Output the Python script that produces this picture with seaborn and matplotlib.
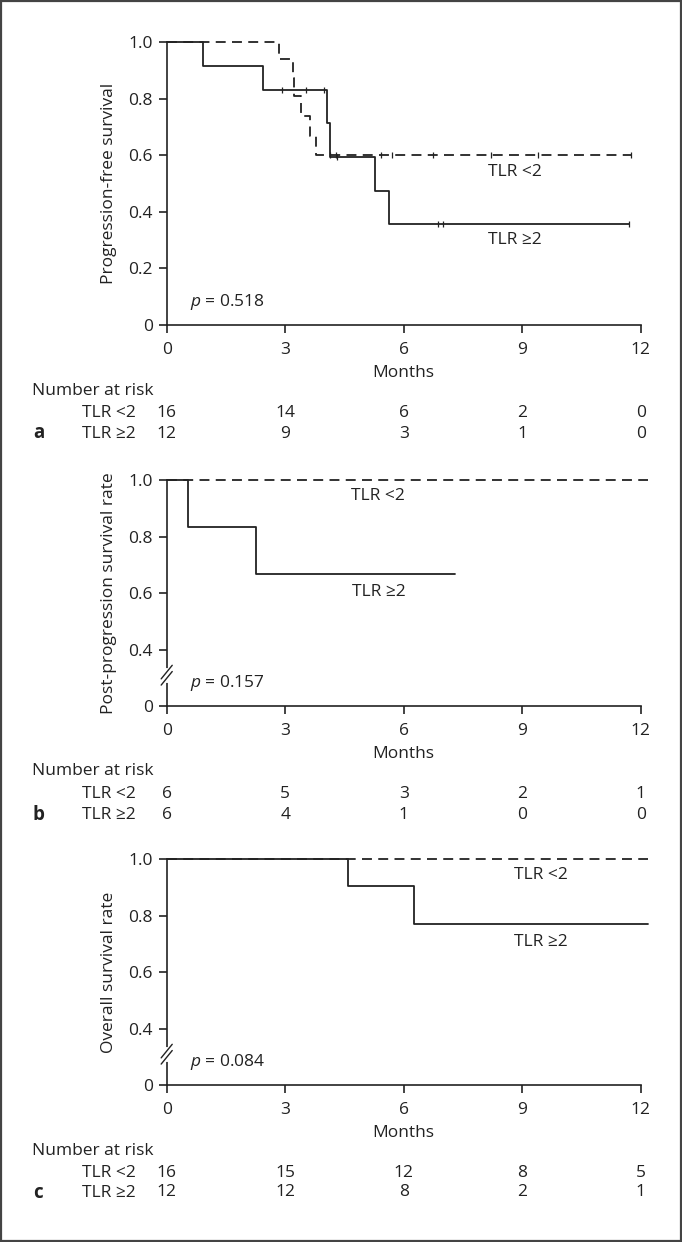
import numpy as np
import pandas as pd
import matplotlib
matplotlib.use("Agg")
import matplotlib.pyplot as plt
import matplotlib.transforms as mtransforms
from matplotlib.patches import Rectangle
from matplotlib.lines import Line2D
import seaborn as sns

# ---------------- data ----------------
# a: progression-free survival
a_low_t = [0, 2.85, 3.20, 3.23, 3.39, 3.64, 3.78, 11.76]
a_low_s = [1.0, 0.94, 0.875, 0.81, 0.74, 0.67, 0.60, 0.60]
a_low_cens = [4.13, 4.28, 5.43, 5.71, 6.75, 8.21, 9.41, 11.76]
a_high_t = [0, 0.91, 2.44, 4.07, 4.14, 5.28, 5.64, 11.7]
a_high_s = [1.0, 0.917, 0.833, 0.713, 0.595, 0.475, 0.356, 0.356]
a_high_cens = [2.93, 3.52, 3.97, 4.30, 6.86, 7.0, 11.7]

# b: post-progression survival
b_low_t = [0, 12.19]
b_low_s = [1.0, 1.0]
b_high_t = [0, 0.54, 2.25, 7.29]
b_high_s = [1.0, 0.833, 0.667, 0.667]

# c: overall survival
c_low_t = [0, 12.19]
c_low_s = [1.0, 1.0]
c_high_t = [0, 4.6, 6.26, 12.19]
c_high_s = [1.0, 0.903, 0.771, 0.771]

month_ticks = [0, 3, 6, 9, 12]
risk_a_low = [16, 14, 6, 2, 0]
risk_a_high = [12, 9, 3, 1, 0]
risk_b_low = [6, 5, 3, 2, 1]
risk_b_high = [6, 4, 1, 0, 0]
risk_c_low = [16, 15, 12, 8, 5]
risk_c_high = [12, 12, 8, 2, 1]

pvals = ["0.518", "0.157", "0.084"]
ylabels = ["Progression-free survival", "Post-progression survival rate",
           "Overall survival rate"]

# ---------------- style ----------------
sns.set_theme(style="ticks")
plt.rcParams["font.family"] = ["Open Sans", "DejaVu Sans"]
plt.rcParams["mathtext.fontset"] = "custom"
plt.rcParams["mathtext.it"] = "Open Sans:italic"
INK = "#222222"
FS = 12.5

W, H = 682, 1242
fig = plt.figure(figsize=(W / 100, H / 100), dpi=100)
fig.patch.set_facecolor("white")


def fy(px):
    return 1 - px / H


def make_ax(top_px, bottom_px):
    left, right = 166.7, 640.7
    return fig.add_axes([left / W, fy(bottom_px), (right - left) / W,
                         (bottom_px - top_px) / H])


def km(ax, t, s, dashed, cens=None):
    df = pd.DataFrame({"t": t, "s": s})
    ls = (0, (5.5, 3.5)) if dashed else "-"
    sns.lineplot(data=df, x="t", y="s", ax=ax, drawstyle="steps-post",
                 estimator=None, sort=False, color=INK, linewidth=1.3,
                 linestyle=ls, clip_on=False)
    if cens is not None:
        cs = [s[np.searchsorted(t, c, side="right") - 1] for c in cens]
        sns.scatterplot(x=cens, y=cs, ax=ax, marker="|", s=18, color=INK,
                        linewidth=0.9, clip_on=False)


def style_ax(ax, broken, ylabel, pval):
    ax.set_xlim(0, 12)
    ax.set_xticks(month_ticks)
    ax.set_xticklabels([str(m) for m in month_ticks])
    if broken:
        ax.set_ylim(0.2, 1.0)
        ax.set_yticks([0.2, 0.4, 0.6, 0.8, 1.0])
        ax.set_yticklabels(["0", "0.4", "0.6", "0.8", "1.0"])
    else:
        ax.set_ylim(0, 1.0)
        ax.set_yticks([0, 0.2, 0.4, 0.6, 0.8, 1.0])
        ax.set_yticklabels(["0", "0.2", "0.4", "0.6", "0.8", "1.0"])
    sns.despine(ax=ax)
    for sp in ["left", "bottom"]:
        ax.spines[sp].set_color(INK)
        ax.spines[sp].set_linewidth(1.2)
    ax.tick_params(axis="both", colors=INK, labelsize=FS, length=6,
                   width=1.2, direction="out")
    ax.tick_params(axis="x", pad=6)
    ax.tick_params(axis="y", pad=4)
    ax.set_xlabel("Months", fontsize=FS, color=INK, labelpad=5)
    ax.set_ylabel(ylabel, fontsize=FS, color=INK)
    ax.yaxis.set_label_coords(-0.105, 0.5)
    ax.set_facecolor("white")
    lo = ax.get_ylim()[0]
    ax.text(0.6, lo + 0.082, r"$p$ = " + pval, fontsize=FS, color=INK,
            va="center", ha="left")
    if broken:
        # axis break marks
        y0 = 0.31
        ax.plot([0, 0], [y0 - 0.02, y0 + 0.02], color="white", lw=3,
                clip_on=False, zorder=5)
        for dy in (-0.011, 0.011):
            ax.add_line(Line2D([-0.14, 0.14], [y0 + dy - 0.024, y0 + dy + 0.024],
                               color=INK, lw=1.0, clip_on=False, zorder=6))


def risk_table(ax, low, high, letter, rows_px):
    tr = mtransforms.blended_transform_factory(ax.transData, fig.transFigure)
    y1, y2, y3 = rows_px
    fig.text(32.5 / W, fy(y1), "Number at risk", fontsize=FS, color=INK,
             va="center", ha="left")
    fig.text(81.7 / W, fy(y2), "TLR <2", fontsize=FS, color=INK,
             va="center", ha="left")
    fig.text(81.7 / W, fy(y3), "TLR \u22652", fontsize=FS, color=INK,
             va="center", ha="left")
    fig.text(33 / W, fy(y3), letter, fontsize=FS + 1, color=INK,
             va="center", ha="left", fontweight="bold")
    for m, n1, n2 in zip(month_ticks, low, high):
        ax.text(m, fy(y2), str(n1), transform=tr, fontsize=FS, color=INK,
                ha="center", va="center")
        ax.text(m, fy(y3), str(n2), transform=tr, fontsize=FS, color=INK,
                ha="center", va="center")


# ---------------- panel a ----------------
ax_a = make_ax(42.3, 325)
km(ax_a, a_low_t, a_low_s, True, a_low_cens)
km(ax_a, a_high_t, a_high_s, False, a_high_cens)
style_ax(ax_a, False, ylabels[0], pvals[0])
ax_a.text(8.82, 0.542, "TLR <2", fontsize=FS, color=INK, ha="center", va="center")
ax_a.text(8.82, 0.30, "TLR \u22652", fontsize=FS, color=INK, ha="center", va="center")
risk_table(ax_a, risk_a_low, risk_a_high, "a", (391, 413, 433.5))

# ---------------- panel b ----------------
ax_b = make_ax(480, 706.3)
km(ax_b, b_low_t, b_low_s, True)
km(ax_b, b_high_t, b_high_s, False)
style_ax(ax_b, True, ylabels[1], pvals[1])
ax_b.text(5.36, 0.945, "TLR <2", fontsize=FS, color=INK, ha="center", va="center")
ax_b.text(5.36, 0.603, "TLR \u22652", fontsize=FS, color=INK, ha="center", va="center")
risk_table(ax_b, risk_b_low, risk_b_high, "b", (771, 794, 815))

# ---------------- panel c ----------------
ax_c = make_ax(859, 1085.3)
km(ax_c, c_low_t, c_low_s, True)
km(ax_c, c_high_t, c_high_s, False)
style_ax(ax_c, True, ylabels[2], pvals[2])
ax_c.text(9.48, 0.943, "TLR <2", fontsize=FS, color=INK, ha="center", va="center")
ax_c.text(9.48, 0.708, "TLR \u22652", fontsize=FS, color=INK, ha="center", va="center")
risk_table(ax_c, risk_c_low, risk_c_high, "c", (1151, 1173, 1192.5))

# outer frame
fig.patches.append(Rectangle((0.0015, 0.001), 0.997, 0.998, transform=fig.transFigure,
                             fill=False, edgecolor="#444444", linewidth=1.6))

fig.savefig("out.png", dpi=100, facecolor="white")
